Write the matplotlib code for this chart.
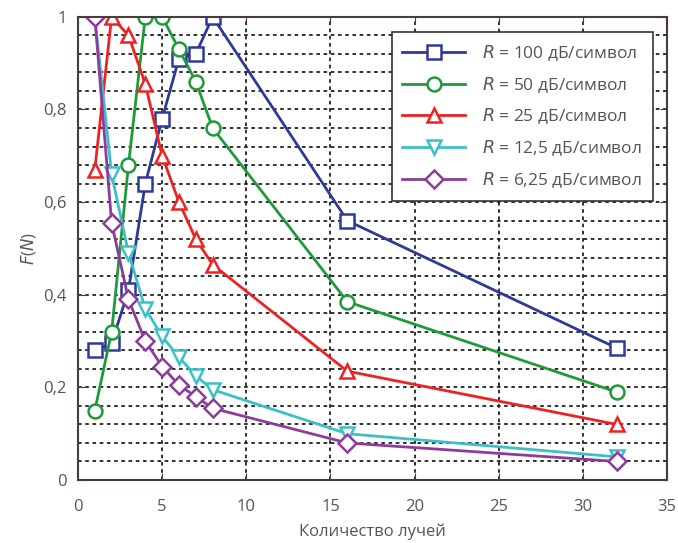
import matplotlib
matplotlib.use('Agg')
import matplotlib.pyplot as plt
from matplotlib.ticker import FuncFormatter, MultipleLocator

plt.rcParams['font.family'] = ['Open Sans', 'DejaVu Sans']

# number of rays
rays = [1, 2, 3, 4, 5, 6, 7, 8, 16, 32]

f100 = [0.28, 0.295, 0.41, 0.64, 0.78, 0.91, 0.92, 1.0, 0.56, 0.285]
f50 = [0.15, 0.32, 0.68, 1.0, 1.0, 0.93, 0.86, 0.76, 0.385, 0.19]
f25 = [0.67, 1.0, 0.96, 0.855, 0.70, 0.60, 0.52, 0.465, 0.235, 0.12]
f12 = [1.0, 0.66, 0.49, 0.37, 0.31, 0.265, 0.225, 0.195, 0.10, 0.05]
f6 = [1.0, 0.555, 0.39, 0.30, 0.245, 0.205, 0.18, 0.155, 0.08, 0.04]

labels = ['100', '50', '25', '12,5', '6,25']
series = [f100, f50, f25, f12, f6]
colors = ['#2e3a9a', '#1f9a3a', '#ee2222', '#3cc0c8', '#8e3a9e']
markers = ['s', 'o', '^', 'v', 'D']

fig = plt.figure(figsize=(6.78, 5.43), dpi=100)
ax = fig.add_axes([0.115, 0.116, 0.869, 0.853])

for vals, lab, c, m in zip(series, labels, colors, markers):
    ms = 9 if m == 'D' else 10
    ax.plot(rays, vals, color=c, marker=m, markersize=ms, markerfacecolor='white',
            markeredgewidth=1.8, linewidth=2,
            label='$R$ = ' + lab + ' дБ/символ')

ax.set_xlim(0, 35)
ax.set_ylim(0, 1)
ax.xaxis.set_major_locator(MultipleLocator(5))
ax.yaxis.set_major_locator(MultipleLocator(0.2))
ax.yaxis.set_minor_locator(MultipleLocator(0.04))
ax.yaxis.set_major_formatter(FuncFormatter(lambda v, p: ('%g' % round(v, 2)).replace('.', ',')))

ax.grid(True, which='major', color='#222222', linestyle=(0, (2, 2)), linewidth=1.3)
ax.grid(True, which='minor', axis='y', color='#222222', linestyle=(0, (2, 2)), linewidth=1.3)
ax.set_axisbelow(True)

ax.tick_params(direction='in', top=True, right=True, length=5, colors='#4a3c3c',
               labelcolor='#555555', labelsize=12, pad=8)
ax.tick_params(axis='x', pad=14)
ax.tick_params(which='minor', direction='in', length=0, right=True)
for s in ax.spines.values():
    s.set_color('#4a3c3c')
    s.set_linewidth(1.5)

ax.set_xlabel('Количество лучей', color='#555555', fontsize=12, labelpad=6)
ax.set_ylabel('$F$($N$)', color='#555555', fontsize=12)

leg = ax.legend(loc='upper right', fontsize=12.5, frameon=True, fancybox=False,
                borderpad=0.6, labelspacing=0.7, handlelength=3.6, handletextpad=1.0,
                bbox_to_anchor=(0.99, 0.985))
leg.get_frame().set_edgecolor('#333333')
leg.get_frame().set_linewidth(1.2)
leg.get_frame().set_alpha(1)
for t in leg.get_texts():
    t.set_color('#555555')

fig.savefig('out.png', dpi=100)
